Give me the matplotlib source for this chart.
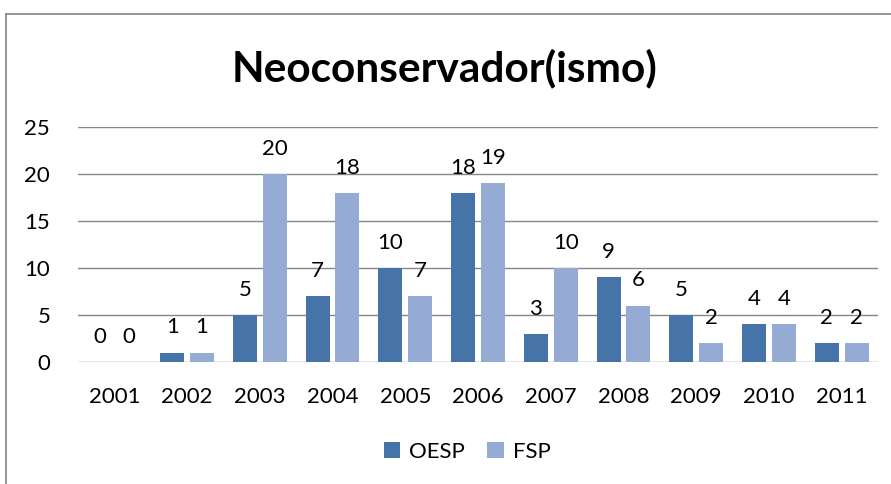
import matplotlib
matplotlib.use("Agg")
import matplotlib.pyplot as plt
import numpy as np
from matplotlib.lines import Line2D

years = ["2001", "2002", "2003", "2004", "2005", "2006", "2007", "2008", "2009", "2010", "2011"]
oesp = [0, 1, 5, 7, 10, 18, 3, 9, 5, 4, 2]
fsp = [0, 1, 20, 18, 7, 19, 10, 6, 2, 4, 2]
yticks = [0, 5, 10, 15, 20, 25]

c_oesp = "#4673A8"
c_fsp = "#95ABD4"
FONT = "Lato"
FS = 16

W, H = 891, 484
fig = plt.figure(figsize=(W / 100, H / 100), dpi=100)
fig.patch.set_facecolor("white")

# border lines (left and top)
fig.add_artist(Line2D([5.5 / W, 5.5 / W], [0, 1 - 14 / H], transform=fig.transFigure, color="#8C8C8C", lw=1.3))
fig.add_artist(Line2D([5.5 / W, 1], [1 - 14 / H, 1 - 14 / H], transform=fig.transFigure, color="#8C8C8C", lw=1.3))

left, right = 78, 878
y0, y25 = 362, 127
ax = fig.add_axes([left / W, 1 - y0 / H, (right - left) / W, (y0 - y25) / H])

x = np.arange(len(years))
bw = 0.33
off = 0.205
b1 = ax.bar(x - off, oesp, bw, color=c_oesp, label="OESP", zorder=3)
b2 = ax.bar(x + off, fsp, bw, color=c_fsp, label="FSP", zorder=3)

ax.set_xlim(-0.5, len(years) - 0.5)
ax.set_ylim(0, 25)
ax.set_yticks(yticks)
ax.set_yticklabels([str(t) for t in yticks], fontsize=FS, family=FONT)
ax.set_xticks(x)
ax.set_xticklabels(years, fontsize=FS, family=FONT)
ax.tick_params(axis="x", length=0, pad=18)
ax.tick_params(axis="y", length=0, pad=20)
for s in ax.spines.values():
    s.set_visible(False)
ax.grid(axis="y", color="#868686", lw=1.0, zorder=0)
ax.set_axisbelow(True)

for bars, vals in ((b1, oesp), (b2, fsp)):
    for rect, v in zip(bars, vals):
        ax.annotate(str(v), (rect.get_x() + rect.get_width() / 2, v), xytext=(0, 11),
                    textcoords="offset points", ha="center", va="bottom",
                    fontsize=FS, family=FONT, color="black")

fig.text(445 / W, 1 - 68 / H, "Neoconservador(ismo)", ha="center", va="center",
         fontsize=30.5, fontweight="bold", family=FONT)

leg = fig.legend(handles=[b1, b2], labels=["OESP", "FSP"], loc="center",
                 bbox_to_anchor=(467 / W, 1 - 452 / H), ncol=2, frameon=False,
                 prop={"family": FONT, "size": FS}, handlelength=0.75, handleheight=0.75,
                 handletextpad=0.4, columnspacing=1.0)

fig.savefig("out.png", dpi=100)
